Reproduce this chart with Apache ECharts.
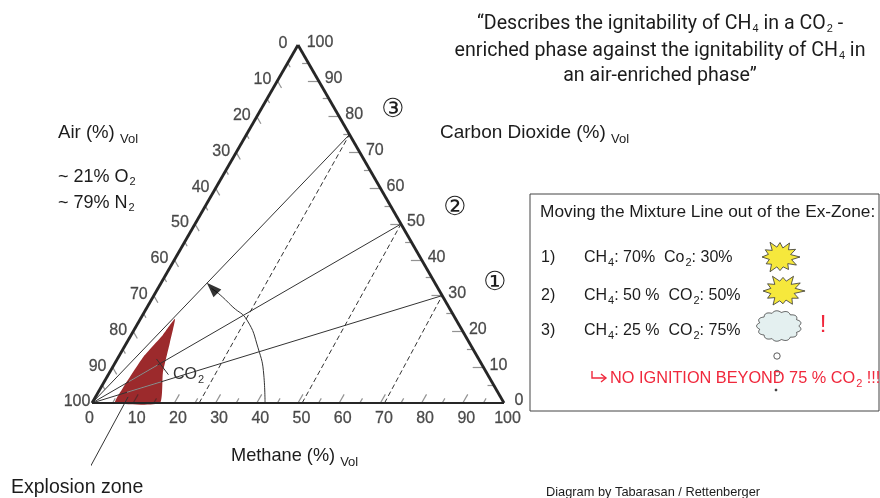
<!DOCTYPE html>
<html><head><meta charset="utf-8">
<style>html,body{margin:0;padding:0;background:#fff}#c{width:880px;height:498px;filter:blur(0.35px)}</style>
<script src="https://cdn.jsdelivr.net/npm/echarts@6/dist/echarts.min.js"></script>
</head><body><div id="c"></div>
<script>
// ---- data, all in ternary percent: [methane, carbon dioxide]; air is the remainder ----
const tickValues = [0,5,10,15,20,25,30,35,40,45,50,55,60,65,70,75,80,85,90,95,100];
const labelValues = [0,10,20,30,40,50,60,70,80,90,100];
const mixtureEnds = [[70,30],[50,50],[25,75]];
const mixtureBases = [71,51,26];
const explosionZone = [[5.6,0],[5.4,4.2],[6,12.8],[7.7,19],[8.4,23.5],[10.5,16.8],[13,8.4],[16.5,0]];
const zoneCrossings = [[[7,3],[13.8,5.9]],[[6,6],[10.6,10.6]]];
const shiftArc = [[42,0],[37.8,7.8],[32.6,15.4],[26,23.2],[20.8,26.8],[16,30.2],[13,32]];
const arrowHead = [[13.1,32.1]];
const explosionLeader = [[8.5,-17.9],[7.9,1.7]];
const co2Leader = [[9.5,12.3],[14.6,7.9]];

const toXY = ([m,c]) => [m + c/2, c];
const line = (pts, style, z, smooth) => ({type:'line', data:pts.map(toXY), symbol:'none', smooth:smooth||false,
  silent:true, clip:false, animation:false, lineStyle:style, z:z||3});
const segs = (list, style, z) => ({type:'lines', coordinateSystem:'cartesian2d', silent:true, animation:false, clip:false,
  data:list.map(p=>({coords:p.map(toXY)})), lineStyle:style, z:z||3});
const INK = '#262626';

const baseTicks = tickValues.map(v=>{const l=v%10===0?2.4:1.3;return [[v,0],[v,l]];}).filter(t=>t[0][0]>0&&t[0][0]<100);
const co2Ticks  = tickValues.map(v=>{const l=v%10===0?2.6:1.5;return [[100-v,v],[100-v-l,v]];}).filter(t=>t[0][1]>0&&t[0][1]<100);
const airTicks  = tickValues.map(v=>{const l=v%10===0?2.0:1.2;return [[0,100-v],[l,100-v-l]];}).filter(t=>t[0][1]>0&&t[0][1]<100);

const tickLabels = (pts, dx, dy, over) => ({type:'scatter', symbolSize:0, silent:true, animation:false, clip:false, z:6,
  data:pts.map(p=>({value:toXY(p.at), label:{formatter:String(p.text), offset:[dx+((over||{})[p.text]||0),dy]}})),
  label:{show:true, position:'inside', fontFamily:'Liberation Sans', fontSize:16, color:'#222', textBorderColor:'#444', textBorderWidth:0.3}});

const FONT='Liberation Sans';
const rich = {
  s:{fontSize:11,fontFamily:FONT,padding:[9,0,0,1],color:'#222'},
  v:{fontSize:13,fontFamily:FONT,padding:[12,0,0,0],color:'#222'},
  r:{fontSize:11,fontFamily:FONT,padding:[9,0,0,1],color:'#f0283c'}
};
const T=(x,y,text,o={})=>({type:'text',x,y,z:20,silent:true,style:Object.assign({text,fontFamily:FONT,fontSize:18.5,fill:'#1c1c1c',
  align:'left',verticalAlign:'middle',rich},o)});

const burst=(cx,cy,rx,ry,radii)=>({type:'polygon',z:20,silent:true,
  shape:{points:radii.map((r,i)=>{const a=i/radii.length*2*Math.PI;return [cx+rx*r*Math.cos(a),cy+ry*r*Math.sin(a)];})},
  style:{fill:'#f6e83c',stroke:'#333',lineWidth:0.8}});
const cloudPts=(cx,cy,rx,ry,n)=>{const p=[];for(let i=0;i<180;i++){const a=i/180*2*Math.PI;
  const r=0.9+0.12*Math.abs(Math.sin(n*a/2));p.push([cx+rx*r*Math.cos(a),cy+ry*r*Math.sin(a)]);}return p;};
const dot=(cx,cy,r,fill)=>({type:'circle',z:20,silent:true,shape:{cx,cy,r},style:{fill:fill||'#fff',stroke:'#333',lineWidth:0.8}});

const starA=[1,.6,.95,.55,.85,.6,.8,.6,1,.6,.8,.55,.9,.6,.85,.55,1,.6,.85,.55,.95,.6,.9,.55];
const starB=[1.05,.55,.85,.6,.9,.55,.75,.6,.95,.55,.85,.6,.95,.6,.85,.55,1,.6,.8,.6,1,.55,.95,.6];
const RED='#f0283c';

const chart = echarts.init(document.getElementById('c'));
chart.setOption({
  animation:false, backgroundColor:'#fff',
  grid:{left:92,top:45,width:412,height:358,containLabel:false},
  xAxis:{type:'value',min:0,max:100,show:false},
  yAxis:{type:'value',min:0,max:100,show:false},
  tooltip:{show:false},
  series:[
    {type:'custom',coordinateSystem:'cartesian2d',silent:true,animation:false,clip:false,z:2,data:[[0,0]],
      renderItem:(p,api)=>({type:'polygon',shape:{points:explosionZone.map(q=>api.coord(toXY(q))),smooth:0.15},
        style:{fill:'#9c2a2c'}})},
    ...mixtureEnds.map(e=>line([[0,0],e],{color:'#333',width:1})),
    ...mixtureEnds.map((e,i)=>line([[mixtureBases[i],0],e],{color:'#333',width:1,type:[5,3]})),
    segs(zoneCrossings,{color:'#f3e6e6',width:1},4),
    line(shiftArc,{color:'#333',width:1},3,0.5),
    {type:'scatter',data:arrowHead.map(toXY),symbol:'triangle',symbolSize:[11,15],symbolRotate:45,silent:true,animation:false,clip:false,z:5,
      itemStyle:{color:'#000'}},
    line(explosionLeader,{color:'#333',width:1},5),
    line(co2Leader,{color:'#333',width:1},5),
    segs(baseTicks,{color:INK,width:1.2}),
    segs(co2Ticks,{color:INK,width:1.2}),
    segs(airTicks,{color:INK,width:1.2}),
    line([[0,0],[100,0]],{color:INK,width:2.2},5),
    line([[0,0],[0,100]],{color:INK,width:2.8},5),
    line([[0,100],[100,0]],{color:INK,width:2.8},5),
    tickLabels(labelValues.map(v=>({at:[v,0],text:v})),3.5,16,{0:-6}),
    tickLabels(labelValues.map(v=>({at:[0,100-v],text:v})),-15,-1),
    tickLabels(labelValues.map(v=>({at:[100-v,v],text:v})),15,-2,{100:7})
  ],
  graphic:{elements:[
    T(660,24,'“Describes the ignitability of CH{s|4} in a CO{s|2} -',{align:'center',fontFamily:'Roboto',fontSize:19.6}),
    T(660,51,'enriched phase against the ignitability of CH{s|4} in',{align:'center',fontFamily:'Roboto',fontSize:19.6}),
    T(660,76,'an air-enriched phase”',{align:'center',fontFamily:'Roboto',fontSize:19.6}),
    T(440,133,'Carbon Dioxide (%) {v|Vol}',{fontSize:19}),
    T(58,133,'Air (%) {v|Vol}',{fontSize:18.6}),
    T(58,177,'~ 21% O{s|2}',{fontSize:18}),
    T(58,203,'~ 79% N{s|2}',{fontSize:18}),
    T(231,456,'Methane (%) {v|Vol}',{fontSize:18.2}),
    T(173,375,'CO{s|2}',{fill:'#333',fontSize:16}),
    T(11,488,'Explosion zone',{fontSize:19.5}),
    T(546,492,'Diagram by Tabarasan / Rettenberger',{fontSize:12.8}),
    T(393,110,'③',{align:'center',fontFamily:'DejaVu Sans',fontSize:26}),
    T(455,208,'②',{align:'center',fontFamily:'DejaVu Sans',fontSize:26}),
    T(495,283,'①',{align:'center',fontFamily:'DejaVu Sans',fontSize:26}),
    {type:'rect',z:15,silent:true,shape:{x:530,y:194,width:349,height:217},style:{fill:'#fff',stroke:'#444',lineWidth:1}},
    T(540,212,'Moving the Mixture Line out of the Ex-Zone:',{fontSize:17.3}),
    T(541,258,'1)',{fontSize:16}),T(584,258,'CH{s|4}: 70%  Co{s|2}: 30%',{fontSize:16}),
    T(541,296,'2)',{fontSize:16}),T(584,296,'CH{s|4}: 50 %  CO{s|2}: 50%',{fontSize:16}),
    T(541,331,'3)',{fontSize:16}),T(584,331,'CH{s|4}: 25 %  CO{s|2}: 75%',{fontSize:16}),
    burst(780,257,20,17,starA),
    burst(783,291,21,17,starB),
    {type:'polygon',z:20,silent:true,shape:{points:cloudPts(779,326,22,15,13)},style:{fill:'#e4f0f0',stroke:'#333',lineWidth:0.8}},
    T(823,325,'!',{align:'center',fontSize:24,fill:RED}),
    dot(777,356,3.2),dot(777,373,2.8),dot(776,390,1,'#333'),
    {type:'polyline',z:20,silent:true,shape:{points:[[592,371],[592,378],[606,378]]},style:{stroke:RED,lineWidth:1.4,fill:null}},
    {type:'polyline',z:20,silent:true,shape:{points:[[601,374],[606,378],[601,382]]},style:{stroke:RED,lineWidth:1.4,fill:null}},
    T(610,379,'NO IGNITION BEYOND 75 % CO{r|2} !!!',{fontSize:16.3,fill:RED})
  ]}
});
</script></body></html>
